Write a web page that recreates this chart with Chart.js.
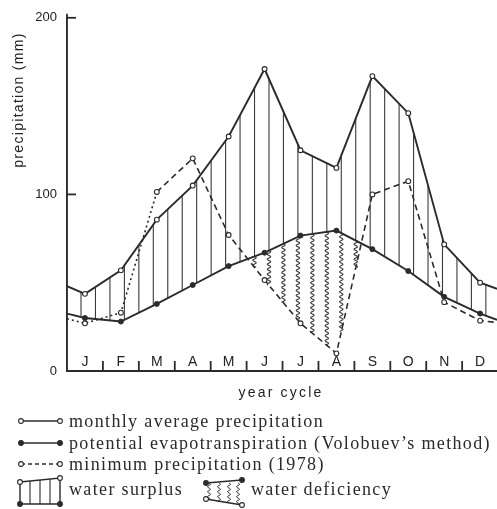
<!DOCTYPE html>
<html><head><meta charset="utf-8">
<script src="https://cdn.jsdelivr.net/npm/chart.js@4"></script>
<style>html,body{margin:0;padding:0;background:#fff;overflow:hidden}#wrap{width:497px;height:509px;position:relative}canvas{display:block}</style>
</head><body><div id="wrap"><canvas id="c" width="497" height="509" style="width:497px;height:509px"></canvas></div>
<script>
// ---- data ----
const months = ['J','F','M','A','M','J','J','A','S','O','N','D'];
const avgPrecip = [43.7, 57, 85.7, 105, 132.8, 171, 125, 115, 167, 146, 71.7, 50];
const avgEdges = [48, 46.5];          // values where the curve meets the left / right frame
const evapo = [30, 28, 38, 48.7, 59.4, 67, 76.7, 79.5, 69, 56.6, 42, 32.5];
const evapoEdges = [32.5, 29];
const minPrecip = [27, 33, 101.4, 120.4, 77, 51.5, 27, 10, 100, 107.5, 39, 28.5];
const minEdges = [29.6, 27.5];
const yTicks = [0, 100, 200];
const X_MAX = 11.97;

const INK = '#2b2b2b';
function series(vals, edges){
  const pts = [{x:0, y:edges[0]}];
  vals.forEach((v,i)=>pts.push({x:i+0.5, y:v}));
  pts.push({x:X_MAX, y:edges[1]});
  return pts;
}
const edgeR = (r)=> (ctx)=> (ctx.dataIndex===0 || ctx.dataIndex===months.length+1) ? 0 : r;

function interp(meta, px){
  const el = meta.data;
  for(let i=0;i<el.length-1;i++){
    const a=el[i], b=el[i+1];
    if(px>=a.x && px<=b.x){ const t=(px-a.x)/(b.x-a.x||1); return a.y+t*(b.y-a.y); }
  }
  return null;
}
function wavy(ctx, x, y1, y2, amp, per){
  ctx.beginPath(); ctx.moveTo(x, y1);
  const dir = y2>y1?1:-1;
  for(let y=y1; dir>0? y<=y2 : y>=y2; y+=dir*0.5){
    ctx.lineTo(x + amp*Math.sin((y-y1)/per*2*Math.PI), y);
  }
  ctx.stroke();
}

const hatchPlugin = {
  id:'hatch',
  beforeDatasetsDraw(chart){
    const ctx=chart.ctx, xs=chart.scales.x;
    const mA=chart.getDatasetMeta(0), mE=chart.getDatasetMeta(1), mM=chart.getDatasetMeta(2);
    ctx.save();
    ctx.strokeStyle='#3a3a3a'; ctx.lineWidth=1.1;
    for(let v=0.39; v<X_MAX; v+=0.4025){
      const px=xs.getPixelForValue(v);
      const yA=interp(mA,px), yE=interp(mE,px), yM=interp(mM,px);
      if(yA!==null && yE!==null && yA < yE-1){
        ctx.beginPath(); ctx.moveTo(px,yA); ctx.lineTo(px,yE); ctx.stroke();
      }
      if(v>4.5 && v<8.5 && yM!==null && yE!==null && yM > yE+1){
        wavy(ctx, px, yE, yM, 1.7, 5);
      }
    }
    ctx.restore();
  }
};

const framePlugin = {
  id:'frame',
  afterDraw(chart){
    const ctx=chart.ctx, xs=chart.scales.x, ys=chart.scales.y, a=chart.chartArea;
    ctx.save();
    ctx.strokeStyle=INK; ctx.fillStyle='#222'; ctx.lineWidth=1.8;
    ctx.beginPath(); ctx.moveTo(a.left, a.top); ctx.lineTo(a.left, a.top-4); ctx.stroke();
    yTicks.filter(t=>t>0).forEach(t=>{
      const py=ys.getPixelForValue(t);
      ctx.beginPath(); ctx.moveTo(a.left,py); ctx.lineTo(a.left+9,py); ctx.stroke();
    });
    for(let i=1;i<months.length;i++){
      const px=xs.getPixelForValue(i);
      ctx.beginPath(); ctx.moveTo(px,a.bottom); ctx.lineTo(px,a.bottom-10); ctx.stroke();
    }
    ctx.font='14px "Liberation Sans", Arial, sans-serif';
    ctx.textAlign='center'; ctx.textBaseline='middle';
    months.forEach((m,i)=>ctx.fillText(m, xs.getPixelForValue(i+0.5), a.bottom-9));
    ctx.letterSpacing='1.3px';
    ctx.save(); ctx.translate(19, 100); ctx.rotate(-Math.PI/2);
    ctx.fillText('precipitation (mm)', 0, 0); ctx.restore();
    ctx.letterSpacing='2.2px';
    ctx.fillText('year cycle', 281, 393);
    ctx.letterSpacing='1.35px';
    ctx.font='18px "Liberation Serif", "Times New Roman", serif';
    ctx.textAlign='left'; ctx.fillStyle='#2a2a2a';
    const rows=[
      {y:421, dash:[], fill:false, t:'monthly average precipitation'},
      {y:443, dash:[], fill:true,  t:'potential evapotranspiration (Volobuev\u2019s method)'},
      {y:464, dash:[4,3], fill:false, t:'minimum precipitation (1978)'}
    ];
    const dot=(x,y,f)=>{ctx.beginPath(); ctx.arc(x,y,2.4,0,Math.PI*2); ctx.fillStyle=f?INK:'#fff'; ctx.fill(); ctx.setLineDash([]); ctx.lineWidth=1.1; ctx.stroke();};
    rows.forEach(r=>{
      ctx.lineWidth=1.5; ctx.setLineDash(r.dash);
      ctx.beginPath(); ctx.moveTo(21,r.y); ctx.lineTo(60,r.y); ctx.stroke();
      dot(21,r.y,r.fill); dot(60,r.y,r.fill);
      ctx.fillStyle='#2a2a2a'; ctx.fillText(r.t, 69, r.y+1);
    });
    ctx.setLineDash([]); ctx.lineWidth=1.4;
    ctx.beginPath(); ctx.moveTo(20,482); ctx.lineTo(60,478); ctx.lineTo(60,504); ctx.lineTo(20,504); ctx.closePath(); ctx.stroke();
    ctx.lineWidth=1.1;
    [30,40,50].forEach(x=>{ctx.beginPath(); ctx.moveTo(x,482-(x-20)*0.1); ctx.lineTo(x,504); ctx.stroke();});
    dot(20,482,false); dot(60,478,false); dot(20,504,true); dot(60,504,true);
    ctx.fillStyle='#2a2a2a'; ctx.fillText('water surplus', 69, 490);
    ctx.lineWidth=1.3;
    ctx.beginPath(); ctx.moveTo(206,483); ctx.lineTo(242,480); ctx.stroke();
    ctx.beginPath(); ctx.moveTo(206,499); ctx.lineTo(242,505); ctx.stroke();
    ctx.lineWidth=1;
    [209,219,229,238].forEach(x=>wavy(ctx,x,483,499+(x-206)*0.16,1.5,5));
    dot(206,483,true); dot(242,480,true); dot(206,499,false); dot(242,505,false);
    ctx.fillStyle='#2a2a2a'; ctx.fillText('water deficiency', 251, 490);
    ctx.restore();
  }
};

new Chart(document.getElementById('c'), {
  type:'line',
  data:{ datasets:[
    {label:'monthly average precipitation', data:series(avgPrecip,avgEdges), borderColor:INK, borderWidth:1.9,
     pointRadius:edgeR(2.4), pointBackgroundColor:'#fff', pointBorderColor:INK, pointBorderWidth:1.1, tension:0, order:1},
    {label:'potential evapotranspiration', data:series(evapo,evapoEdges), borderColor:INK, borderWidth:1.9,
     pointRadius:edgeR(2.5), pointBackgroundColor:INK, pointBorderColor:INK, pointBorderWidth:1, tension:0, order:2},
    {label:'minimum precipitation (1978)', data:series(minPrecip,minEdges), borderColor:INK, borderWidth:1.6,
     segment:{borderDash:(c)=> c.p0DataIndex<3 ? [2,3] : [6,4]},
     pointRadius:edgeR(2.4), pointBackgroundColor:'#fff', pointBorderColor:INK, pointBorderWidth:1.1, tension:0, order:3}
  ]},
  options:{
    responsive:false, animation:false, devicePixelRatio:1,
    layout:{padding:{top:14,right:0,bottom:0,left:0}},
    plugins:{legend:{display:false}, tooltip:{enabled:false}},
    scales:{
      x:{type:'linear', min:0, max:X_MAX, ticks:{display:false}, grid:{display:false},
         border:{display:true,color:INK,width:1.9},
         afterFit:(s)=>{s.height=509-371;}},
      y:{min:0, max:200, afterBuildTicks:(s)=>{s.ticks=yTicks.map(v=>({value:v}));},
         ticks:{color:'#222', padding:10, font:{family:'"Liberation Sans", Arial, sans-serif', size:13}},
         grid:{display:false, drawTicks:false}, border:{display:true,color:INK,width:1.9},
         afterFit:(s)=>{s.width=67;}}
    }
  },
  plugins:[hatchPlugin, framePlugin]
});
</script></body></html>
